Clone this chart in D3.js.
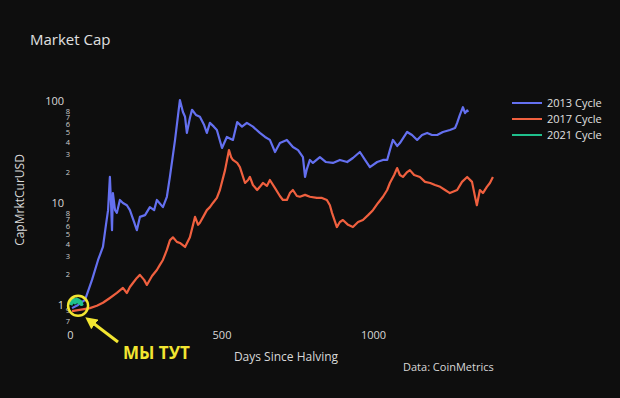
<!DOCTYPE html>
<html>
<head>
<meta charset="utf-8">
<script src="https://cdn.jsdelivr.net/npm/d3@7"></script>
<style>
  body { margin: 0; background: #0e0e0e; }
  text { font-family: "Open Sans", sans-serif; }
</style>
</head>
<body>
<div id="chart"></div>
<script>
// days since halving / market cap (normalised)
var days2013 = [5,25,48,71,91,107,117,124,130,134,137,140,147,153,163,173,186,196,210,219,229,246,262,276,285,305,318,328,345,355,361,371,378,384,394,401,414,427,441,450,460,473,483,500,516,536,550,566,582,602,625,642,658,675,691,714,734,751,767,774,780,790,800,823,843,866,889,913,932,955,972,988,1012,1031,1045,1054,1064,1078,1087,1111,1127,1144,1160,1177,1193,1210,1229,1252,1269,1276,1285,1295,1302,1309,1312]
var cap2013 = [0.93,1.0,1.12,1.76,2.76,3.7,6.1,8.5,18,9.6,5.4,12.5,8.5,8.0,10.7,10,9.5,8.5,6.5,5.4,7.3,7.6,9.1,8.5,10.7,9.1,11.5,18,41.5,73,102,78,70,48.6,68,82,73,70,58,48.6,61,56,52,34.6,44.4,41.5,62,56,61,56,48.6,44.4,41.5,31.6,38.7,41.5,35.4,33,28.2,18,21.5,26.4,24.7,28.2,25.2,24.7,26.4,25.2,27.6,31.6,26.4,22.5,25.2,26.4,26.4,33,41.5,36.2,38.7,49.7,46.4,41.5,46.4,48.6,46.4,46.4,49.7,52,54.3,61,73,87,76,81,78]

var days2017 = [5,25,45,64,87,107,130,153,173,186,196,206,219,229,243,252,269,285,295,305,318,328,338,351,361,378,394,411,421,427,441,450,460,470,483,493,510,523,530,536,550,559,576,586,592,602,616,625,635,648,658,675,691,701,714,724,734,747,757,774,790,813,830,846,856,863,879,889,899,916,932,949,965,982,998,1015,1031,1045,1054,1068,1078,1087,1097,1111,1120,1134,1153,1170,1187,1203,1220,1236,1252,1276,1292,1309,1325,1335,1341,1351,1361,1374,1384,1394]
var cap2017 = [0.87,0.89,0.91,0.93,0.98,1.05,1.17,1.31,1.47,1.31,1.5,1.64,1.84,1.97,1.76,1.57,1.92,2.2,2.47,2.76,3.46,4.3,4.6,4.15,4.05,3.7,4.6,7.3,6.1,6.4,7.6,8.5,9.1,10,11.2,13.4,21,33,28.2,26.4,24.7,22.5,15.7,16.8,18,15,13.4,14.4,15.7,14.7,16.8,14,11.7,10.7,10.7,12.5,13.4,11.7,11.5,12,11.5,11.2,11.2,10.7,9.5,8.0,5.8,6.5,6.8,6.1,5.8,6.5,6.8,7.6,8.5,10,11.5,13.4,15.7,18.8,22,18.8,18,20.1,21,18.8,18,16.1,15.7,15,14.4,13.4,12.5,13.4,16.1,18,16.1,11.5,9.5,13.4,12.5,14.4,15.7,18]

var days2021 = [0,3,6,9,12,15,18,21,24,27,30,33,36,40]
var cap2021 = [1.0,1.05,1.1,1.08,1.12,1.06,1.1,1.13,1.08,1.1,1.05,1.07,1.02,1.04]

var cycleNames = ["2013 Cycle", "2017 Cycle", "2021 Cycle"]
var cycleColors = ["#6470f0", "#f0603f", "#1fbf8c"]

var xTicks = [0, 500, 1000]
var yMajor = [1, 10, 100]
var yMinor = [0.7,0.9,2,3,4,5,6,7,8,20,30,40,50,60,70,80]

var width = 620, height = 398

var svg = d3.select("#chart")
  .append("svg")
    .attr("width", width)
    .attr("height", height)

svg.append("rect").attr("width", width).attr("height", height).attr("fill", "#0e0e0e")

var x = d3.scaleLinear()
  .domain([0, 1420])
  .range([70.5, 500.8])

var y = d3.scaleLog()
  .domain([0.68, 115])
  .range([322, 94.8])

// title
svg.append("text")
  .attr("x", 30).attr("y", 45)
  .attr("fill", "#e0e0e0")
  .style("font-size", "15px")
  .text("Market Cap")

// x axis labels
svg.append("g").selectAll("text")
  .data(xTicks)
  .enter().append("text")
    .attr("x", function(d) { return x(d); })
    .attr("y", 339)
    .attr("text-anchor", "middle")
    .attr("fill", "#d8d8d8")
    .style("font-size", "11px")
    .text(function(d) { return d; })

// y axis labels (major + minor)
svg.append("g").selectAll("text")
  .data(yMajor)
  .enter().append("text")
    .attr("x", 64)
    .attr("y", function(d) { return y(d) + 4; })
    .attr("text-anchor", "end")
    .attr("fill", "#d8d8d8")
    .style("font-size", "11px")
    .text(function(d) { return d; })

svg.append("g").selectAll("text")
  .data(yMinor)
  .enter().append("text")
    .attr("x", 68)
    .attr("y", function(d) { return y(d) + 3; })
    .attr("text-anchor", "middle")
    .attr("fill", "#cfcfcf")
    .style("font-size", "7.5px")
    .text(function(d) { return String(d).replace("0.", "").charAt(0); })

// axis titles
svg.append("text")
  .attr("transform", "translate(24,200) rotate(-90)")
  .attr("text-anchor", "middle")
  .attr("fill", "#d8d8d8")
  .style("font-size", "12px")
  .text("CapMrktCurUSD")

svg.append("text")
  .attr("x", 286).attr("y", 361)
  .attr("text-anchor", "middle")
  .attr("fill", "#d8d8d8")
  .style("font-size", "12px")
  .text("Days Since Halving")

svg.append("text")
  .attr("x", 403).attr("y", 371)
  .attr("fill", "#d8d8d8")
  .style("font-size", "11px")
  .text("Data: CoinMetrics")

// lines
var line = d3.line()
  .x(function(d) { return x(d[0]); })
  .y(function(d) { return y(d[1]); })

var series = [
  d3.zip(days2013, cap2013),
  d3.zip(days2017, cap2017),
  d3.zip(days2021, cap2021)
]

svg.append("g").selectAll("path")
  .data(series)
  .enter().append("path")
    .attr("d", line)
    .attr("fill", "none")
    .attr("stroke", function(d, i) { return cycleColors[i]; })
    .attr("stroke-width", function(d, i) { return i == 2 ? 4 : 2.2; })
    .attr("stroke-linejoin", "round")

// legend
var legend = svg.append("g").selectAll("g")
  .data(cycleNames)
  .enter().append("g")
    .attr("transform", function(d, i) { return "translate(512," + (103 + i * 16) + ")"; })
legend.append("line")
  .attr("x1", 0).attr("x2", 30)
  .attr("stroke", function(d, i) { return cycleColors[i]; })
  .attr("stroke-width", 2)
legend.append("text")
  .attr("x", 35).attr("y", 4)
  .attr("fill", "#e0e0e0")
  .style("font-size", "11px")
  .text(function(d) { return d; })

// "we are here" annotation
var cx = x(25), cy = y(0.98)
svg.append("circle")
  .attr("cx", cx).attr("cy", cy).attr("r", 10)
  .attr("fill", "none")
  .attr("stroke", "#f2e531")
  .attr("stroke-width", 2.5)

svg.append("defs").append("marker")
  .attr("id", "head")
  .attr("viewBox", "0 0 10 10")
  .attr("refX", 5).attr("refY", 5)
  .attr("markerWidth", 4).attr("markerHeight", 4)
  .attr("orient", "auto")
  .append("path")
    .attr("d", "M0,0L10,5L0,10Z")
    .attr("fill", "#f2e531")

svg.append("line")
  .attr("x1", 118).attr("y1", 342)
  .attr("x2", cx + 12).attr("y2", cy + 15)
  .attr("stroke", "#f2e531")
  .attr("stroke-width", 3)
  .attr("marker-end", "url(#head)")

svg.append("text")
  .attr("x", 123).attr("y", 359)
  .attr("fill", "#f2e531")
  .style("font-size", "17px")
  .style("font-weight", "bold")
  .text("МЫ ТУТ")
</script>
</body>
</html>
